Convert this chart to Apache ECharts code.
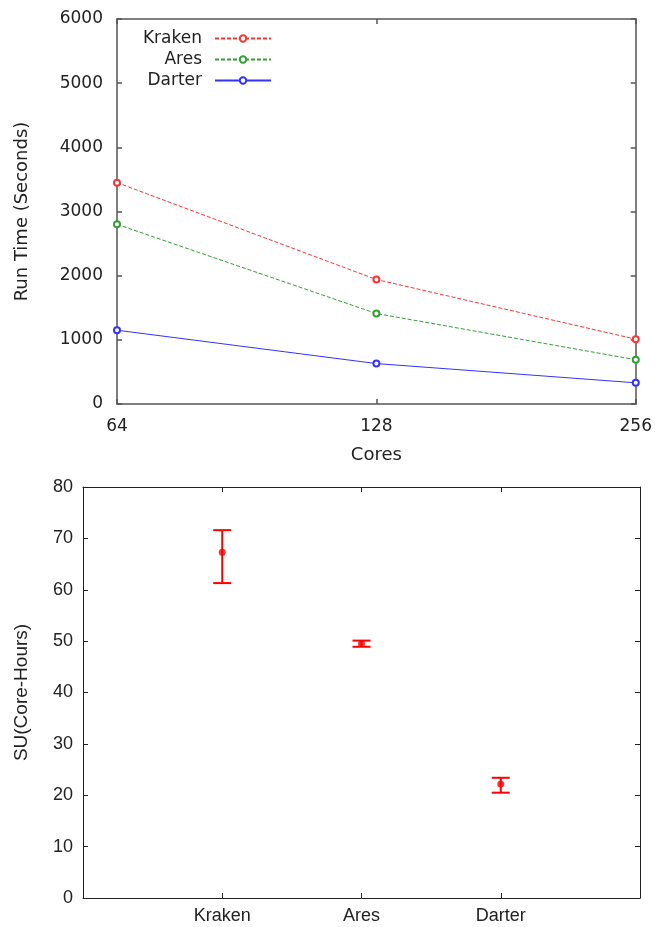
<!DOCTYPE html>
<html>
<head>
<meta charset="utf-8">
<script src="https://cdn.jsdelivr.net/npm/echarts@6/dist/echarts.min.js"></script>
<style>
  html, body { margin: 0; padding: 0; background: #fff; }
  #chart { width: 655px; height: 927px; }
</style>
</head>
<body>
<div id="chart"></div>
<script>
// top: run time vs cores
const cores = ['64', '128', '256'];
const kraken = [3450, 1940, 1010];
const ares = [2800, 1410, 690];
const darter = [1150, 630, 330];

// bottom: SU per machine (mean with min/max bars)
const machines = ['Kraken', 'Ares', 'Darter'];
const suMean = [67.3, 49.5, 22.2];
const suLow = [61.3, 48.9, 20.5];
const suHigh = [71.6, 50.1, 23.4];

const topFont = 'DejaVu Sans';
const botFont = 'Liberation Sans';
const padded = [''].concat(machines, ['']);

var myChart = echarts.init(document.getElementById('chart'));

function axisBase(grid, font, size, color, lineW) {
  return {
    gridIndex: grid,
    axisLine: { show: true, onZero: false, lineStyle: { color: color, width: lineW } },
    axisTick: { show: true, inside: true, length: 5, lineStyle: { color: color, width: lineW } },
    axisLabel: { fontFamily: font, fontSize: size, color: '#222' },
    splitLine: { show: false },
    nameTextStyle: { fontFamily: font, fontSize: size + 1, color: '#222' }
  };
}

function mirror(base) {
  const a = Object.assign({}, base);
  a.axisLabel = { show: false };
  a.name = '';
  return a;
}

// top chart axes
const topX = Object.assign(axisBase(0, topFont, 17, '#555', 1.5), {
  type: 'category', data: cores, boundaryGap: false, position: 'bottom',
  name: 'Cores', nameLocation: 'middle', nameGap: 42
});
topX.axisLabel.margin = 14;
const topY = Object.assign(axisBase(0, topFont, 17, '#555', 1.5), {
  type: 'value', min: 0, max: 6000, interval: 1000, position: 'left',
  name: 'Run Time (Seconds)', nameLocation: 'middle', nameGap: 86
});
topY.axisLabel.margin = 14;
topY.axisLabel.formatter = function (v) { return String(v); };

// bottom chart axes
const botX = Object.assign(axisBase(1, botFont, 18, '#222', 1), {
  type: 'category', data: padded, boundaryGap: false, position: 'bottom'
});
botX.axisTick.interval = function (i, v) { return v !== ''; };
botX.axisLabel.margin = 9;
botX.axisLabel.interval = 0;
const botY = Object.assign(axisBase(1, botFont, 18, '#222', 1), {
  type: 'value', min: 0, max: 80, interval: 10, position: 'left',
  name: 'SU(Core-Hours)', nameLocation: 'middle', nameGap: 52
});
botY.axisLabel.margin = 10;

const topXm = mirror(topX); topXm.position = 'top';
const topYm = mirror(topY); topYm.position = 'right';
const botXm = mirror(botX); botXm.position = 'top';
const botYm = mirror(botY); botYm.position = 'right';

function lineSeries(name, data, color, type) {
  return {
    name: name, type: 'line', xAxisIndex: 0, yAxisIndex: 0, data: data,
    symbol: 'emptyCircle', symbolSize: 6,
    lineStyle: { color: color, width: 1, type: type },
    itemStyle: { color: color, borderWidth: 1 }
  };
}

function legendFor(name, top) {
  return {
    data: [name], orient: 'vertical', align: 'right', right: 385, top: top,
    itemWidth: 56, itemHeight: 8,
    textStyle: { fontFamily: topFont, fontSize: 17, color: '#222', padding: [0, 8, 0, 0] }
  };
}

const errData = machines.map(function (m, i) { return [i + 1, suLow[i], suHigh[i]]; });
const meanData = machines.map(function (m, i) { return [i + 1, suMean[i]]; });

myChart.setOption({
  animation: false,
  backgroundColor: '#fff',
  grid: [
    { left: 117, right: 18, top: 19, height: 385 },
    { left: 83, right: 15, top: 487, height: 411 }
  ],
  legend: [legendFor('Kraken', 25), legendFor('Ares', 46), legendFor('Darter', 67)].map(function (l) {
    l.right = 378; return l;
  }),
  xAxis: [topX, topXm, botX, botXm],
  yAxis: [topY, topYm, botY, botYm],
  series: [
    lineSeries('Kraken', kraken, '#ff3333', [4, 2]),
    lineSeries('Ares', ares, '#33a033', [4, 2]),
    lineSeries('Darter', darter, '#3333ff', 'solid'),
    {
      type: 'custom', xAxisIndex: 2, yAxisIndex: 2, data: errData,
      renderItem: function (params, api) {
        const lo = api.coord([api.value(0), api.value(1)]);
        const hi = api.coord([api.value(0), api.value(2)]);
        const w = 9;
        const st = { stroke: '#ff0000', lineWidth: 2 };
        return {
          type: 'group',
          children: [
            { type: 'line', shape: { x1: lo[0], y1: lo[1], x2: hi[0], y2: hi[1] }, style: st },
            { type: 'line', shape: { x1: lo[0] - w, y1: lo[1], x2: lo[0] + w, y2: lo[1] }, style: st },
            { type: 'line', shape: { x1: hi[0] - w, y1: hi[1], x2: hi[0] + w, y2: hi[1] }, style: st }
          ]
        };
      }
    },
    {
      type: 'scatter', xAxisIndex: 2, yAxisIndex: 2, data: meanData,
      symbol: 'circle', symbolSize: 7, itemStyle: { color: '#ff0000' }
    }
  ]
});
window.addEventListener('resize', function () { myChart.resize(); });
</script>
</body>
</html>
